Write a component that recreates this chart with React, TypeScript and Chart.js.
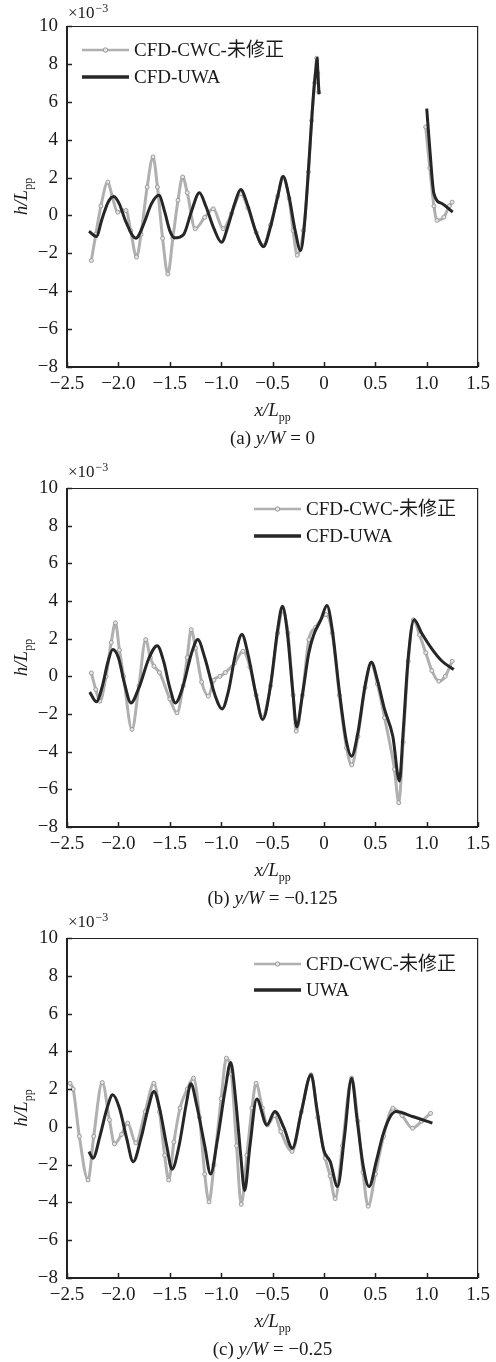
import React, { useEffect, useRef } from 'react';
import { Chart, registerables } from 'chart.js';

Chart.register(...registerables);

// ---- Axis ticks ----
const X_TICKS = [-2.5, -2, -1.5, -1, -0.5, 0, 0.5, 1, 1.5];
const X_TICK_LABELS = ['−2.5', '−2.0', '−1.5', '−1.0', '−0.5', '0', '0.5', '1.0', '1.5'];
const Y_TICKS = [-8, -6, -4, -2, 0, 2, 4, 6, 8, 10];
const Y_TICK_LABELS = ['−8', '−6', '−4', '−2', '0', '2', '4', '6', '8', '10'];

// ---- Panel (a) y/W = 0 ----
const A_CWC_X = [-2.263, -2.22, -2.17, -2.103, -2.06, -2.007, -1.96, -1.926, -1.88, -1.824, -1.78, -1.72, -1.663, -1.62, -1.57, -1.519, -1.47, -1.42, -1.375, -1.33, -1.253, -1.16, -1.077, -0.981, -0.9, -0.81, -0.74, -0.66, -0.589, -0.52, -0.45, -0.4, -0.34, -0.3, -0.26, -0.2, -0.15, -0.12, -0.09, -0.07, -0.06, -0.05, 0.5, 0.99, 1.03, 1.07, 1.1, 1.167, 1.22, 1.247];
const A_CWC_Y = [-2.38, -1.0, 0.5, 1.76, 1.0, 0.17, 0.25, 0.26, -0.8, -2.2, -1.0, 1.5, 3.09, 1.5, -1.2, -3.09, -1.2, 0.8, 2.03, 1.2, -0.7, -0.1, 0.35, -0.7, 0.1, 1.15, 0.4, -0.9, -1.6, -0.5, 1.0, 2.0, 0.9, -0.8, -2.1, -0.8, 2.3, 5.0, 7.0, 8.3, 7.5, 6.5, null, 4.67, 2.5, 0.5, -0.26, -0.09, 0.5, 0.7];
const A_UWA_X = [-2.286, -2.214, -2.16, -2.1, -2.045, -1.99, -1.93, -1.83, -1.75, -1.68, -1.606, -1.55, -1.5, -1.455, -1.365, -1.29, -1.212, -1.15, -1.07, -0.997, -0.93, -0.87, -0.81, -0.74, -0.66, -0.589, -0.52, -0.45, -0.397, -0.34, -0.28, -0.228, -0.19, -0.15, -0.12, -0.099, -0.075, -0.067, -0.058, -0.048, 0.5, 1.0, 1.03, 1.07, 1.151, 1.253];
const A_UWA_Y = [-0.83, -1.11, -0.2, 0.7, 1.0, 0.6, -0.3, -1.2, -0.4, 0.6, 1.06, 0.2, -0.8, -1.18, -1.0, 0.2, 1.2, 0.5, -0.7, -1.41, -0.5, 0.6, 1.37, 0.5, -0.9, -1.64, -0.6, 1.0, 2.06, 1.0, -0.8, -1.85, -0.5, 2.5, 5.0, 6.6, 7.9, 8.3, 7.4, 6.4, null, 5.64, 3.5, 1.15, 0.62, 0.18];

// ---- Panel (b) y/W = -0.125 ----
const B_CWC_X = [-2.263, -2.22, -2.18, -2.12, -2.07, -2.029, -1.99, -1.95, -1.868, -1.8, -1.734, -1.69, -1.654, -1.6, -1.5, -1.43, -1.37, -1.33, -1.292, -1.25, -1.19, -1.125, -1.07, -1.013, -0.96, -0.87, -0.788, -0.72, -0.66, -0.6, -0.52, -0.45, -0.4, -0.35, -0.3, -0.27, -0.21, -0.147, -0.08, 0.02, 0.08, 0.15, 0.22, 0.27, 0.33, 0.4, 0.46, 0.52, 0.59, 0.686, 0.728, 0.77, 0.82, 0.87, 0.93, 0.99, 1.05, 1.118, 1.18, 1.247];
const B_CWC_Y = [0.18, -0.7, -1.32, 0.0, 1.8, 2.84, 1.4, 0.0, -2.82, -0.5, 1.95, 1.0, 0.54, 0.2, -1.2, -1.94, -0.5, 1.0, 2.48, 1.5, -0.3, -1.05, -0.2, 0.0, 0.2, 0.7, 1.33, 0.5, -1.0, -2.2, -0.5, 2.3, 3.5, 2.3, -1.0, -2.91, -1.0, 1.95, 2.6, 3.28, 2.3, -1.0, -3.8, -4.7, -3.2, -0.6, 0.7, -0.4, -2.2, -4.94, -6.71, -3.5, 0.8, 3.0, 2.2, 1.25, 0.3, -0.26, 0.0, 0.8];
const B_UWA_X = [-2.279, -2.214, -2.16, -2.1, -2.055, -2.0, -1.94, -1.878, -1.8, -1.7, -1.622, -1.56, -1.5, -1.445, -1.37, -1.29, -1.228, -1.16, -1.06, -0.99, -0.93, -0.86, -0.798, -0.74, -0.66, -0.596, -0.52, -0.45, -0.404, -0.36, -0.3, -0.266, -0.21, -0.147, -0.1, -0.03, 0.029, 0.08, 0.15, 0.22, 0.269, 0.33, 0.4, 0.462, 0.52, 0.59, 0.67, 0.734, 0.77, 0.82, 0.878, 0.95, 1.055, 1.15, 1.263];
const B_UWA_Y = [-0.84, -1.35, -0.6, 0.8, 1.42, 1.0, -0.4, -1.41, -0.6, 1.0, 1.63, 0.8, -0.6, -1.41, -0.5, 1.2, 1.95, 1.0, -1.0, -1.73, -0.8, 1.2, 2.22, 1.2, -1.0, -2.29, -0.5, 2.5, 3.72, 2.5, -1.0, -2.68, -1.0, 1.25, 2.2, 3.0, 3.76, 2.5, -0.8, -3.5, -4.24, -3.0, -0.5, 0.75, -0.2, -1.76, -3.18, -5.56, -3.0, 1.0, 3.01, 2.3, 1.42, 0.8, 0.36];

// ---- Panel (c) y/W = -0.25 ----
const C_CWC_X = [-2.471, -2.44, -2.38, -2.295, -2.24, -2.157, -2.087, -2.038, -1.97, -1.91, -1.83, -1.74, -1.654, -1.6, -1.55, -1.51, -1.46, -1.4, -1.33, -1.269, -1.21, -1.16, -1.118, -1.07, -1.0, -0.949, -0.9, -0.85, -0.805, -0.75, -0.7, -0.661, -0.6, -0.55, -0.48, -0.42, -0.31, -0.22, -0.125, -0.06, 0.013, 0.06, 0.109, 0.18, 0.269, 0.33, 0.38, 0.43, 0.5, 0.58, 0.67, 0.76, 0.862, 0.95, 1.038];
const C_CWC_Y = [2.31, 2.0, -0.5, -2.81, -0.5, 2.35, 0.37, -0.9, -0.4, 0.2, -0.85, 0.8, 2.31, 0.8, -1.5, -2.81, -0.8, 1.0, 2.0, 2.58, 0.5, -2.5, -3.97, -2.0, 1.5, 3.64, 2.8, -1.0, -4.1, -1.5, 1.0, 2.31, 1.0, 0.1, 0.6, -0.25, -1.3, 0.8, 2.76, 0.5, -1.66, -2.6, -3.8, -1.0, 2.58, 0.3, -2.4, -4.2, -2.5, -0.5, 0.99, 0.6, -0.07, 0.3, 0.72];
const C_UWA_X = [-2.286, -2.247, -2.18, -2.11, -2.055, -1.99, -1.92, -1.856, -1.78, -1.71, -1.654, -1.6, -1.53, -1.478, -1.41, -1.34, -1.295, -1.24, -1.16, -1.103, -1.04, -0.96, -0.907, -0.86, -0.81, -0.772, -0.72, -0.654, -0.555, -0.478, -0.388, -0.308, -0.22, -0.125, -0.07, -0.003, 0.061, 0.132, 0.2, 0.269, 0.32, 0.38, 0.439, 0.51, 0.574, 0.64, 0.702, 0.862, 1.055];
const C_UWA_Y = [-1.31, -1.66, -0.5, 1.0, 1.7, 1.0, -0.6, -1.84, -0.6, 1.0, 1.87, 1.0, -1.0, -2.24, -1.0, 1.2, 2.28, 1.2, -1.0, -2.49, -0.8, 2.0, 3.41, 1.5, -1.5, -3.37, -1.0, 1.47, 0.1, 0.81, -0.07, -1.13, 0.8, 2.76, 1.0, -1.22, -1.84, -3.16, -0.5, 2.58, 0.5, -2.0, -3.16, -1.8, -0.42, 0.5, 0.81, 0.55, 0.2];

const SERIF = '"Liberation Serif", "Times New Roman", "Noto Sans CJK SC", serif';
const TEXT = '#1a1a1a';
const GRAY = '#b0b0b0';
const DARK = '#262626';

type Part = { t: string; i?: boolean; sub?: boolean; sup?: boolean };

function drawRich(ctx: CanvasRenderingContext2D, parts: Part[], cx: number, baseline: number, size: number) {
  const fontOf = (p: Part) => {
    const s = p.sub || p.sup ? Math.round(size * 0.65) : size;
    return `${p.i ? 'italic ' : ''}${s}px ${SERIF}`;
  };
  let total = 0;
  const widths = parts.map((p) => {
    ctx.font = fontOf(p);
    const w = ctx.measureText(p.t).width;
    total += w;
    return w;
  });
  let x = cx - total / 2;
  ctx.textAlign = 'left';
  ctx.textBaseline = 'alphabetic';
  parts.forEach((p, k) => {
    ctx.font = fontOf(p);
    const dy = p.sub ? size * 0.28 : p.sup ? -size * 0.45 : 0;
    ctx.fillText(p.t, x, baseline + dy);
    x += widths[k];
  });
}

type Panel = {
  cwcX: number[];
  cwcY: (number | null)[];
  uwaX: number[];
  uwaY: (number | null)[];
  cwcLabel: string;
  uwaLabel: string;
  caption: Part[];
  top: number;
  height: number;
  legendX: number;
  legendY1: number;
  legendY2: number;
  multDy: number;
};

const PAD_TOP = 26;
const X_AXIS_H = 80;
const PAD_BOTTOM = 5;

const PANELS: Panel[] = [
  {
    cwcX: A_CWC_X, cwcY: A_CWC_Y, uwaX: A_UWA_X, uwaY: A_UWA_Y,
    cwcLabel: 'CFD-CWC-未修正', uwaLabel: 'CFD-UWA',
    caption: [{ t: '(a) ' }, { t: 'y/W', i: true }, { t: ' = 0' }],
    top: 0, height: 452, legendX: 82, legendY1: 24, legendY2: 51, multDy: 8,
  },
  {
    cwcX: B_CWC_X, cwcY: B_CWC_Y, uwaX: B_UWA_X, uwaY: B_UWA_Y,
    cwcLabel: 'CFD-CWC-未修正', uwaLabel: 'CFD-UWA',
    caption: [{ t: '(b) ' }, { t: 'y/W', i: true }, { t: ' = −0.125' }],
    top: 462, height: 450, legendX: 254, legendY1: 21, legendY2: 48, multDy: 11,
  },
  {
    cwcX: C_CWC_X, cwcY: C_CWC_Y, uwaX: C_UWA_X, uwaY: C_UWA_Y,
    cwcLabel: 'CFD-CWC-未修正', uwaLabel: 'UWA',
    caption: [{ t: '(c) ' }, { t: 'y/W', i: true }, { t: ' = −0.25' }],
    top: 912, height: 451, legendX: 254, legendY1: 26, legendY2: 52, multDy: 11,
  },
];

function makeDecor(p: Panel) {
  return {
    id: 'decor',
    afterDraw(chart: any) {
      const ctx: CanvasRenderingContext2D = chart.ctx;
      const { left, right, top, bottom } = chart.chartArea;
      const xs = chart.scales.x;
      const ys = chart.scales.y;
      ctx.save();
      // frame
      ctx.strokeStyle = '#222';
      ctx.lineWidth = 1.2;
      ctx.beginPath();
      ctx.moveTo(left, top + 0.5);
      ctx.lineTo(right - 0.5, top + 0.5);
      ctx.lineTo(right - 0.5, bottom);
      ctx.stroke();
      ctx.lineWidth = 2;
      ctx.beginPath();
      ctx.moveTo(left, top);
      ctx.lineTo(left, bottom);
      ctx.lineTo(right, bottom);
      ctx.stroke();
      // inward tick marks
      ctx.lineWidth = 1.5;
      ctx.beginPath();
      xs.ticks.forEach((t: any) => {
        const px = Math.round(xs.getPixelForValue(t.value)) + 0.5;
        ctx.moveTo(px, bottom);
        ctx.lineTo(px, bottom - 5);
      });
      ys.ticks.forEach((t: any) => {
        const py = Math.round(ys.getPixelForValue(t.value)) + 0.5;
        ctx.moveTo(left, py);
        ctx.lineTo(left + 5, py);
      });
      ctx.stroke();

      ctx.fillStyle = TEXT;
      // multiplier
      ctx.textAlign = 'left';
      ctx.textBaseline = 'alphabetic';
      ctx.font = `17px ${SERIF}`;
      ctx.fillText('×10', left + 1, top - p.multDy);
      const w = ctx.measureText('×10').width;
      ctx.font = `12px ${SERIF}`;
      ctx.fillText('−3', left + 1 + w + 1, top - p.multDy - 6);

      const cx = (left + right) / 2;
      // x-axis title
      drawRich(ctx, [{ t: 'x/L', i: true }, { t: 'pp', sub: true }], cx, bottom + 49, 19);
      // caption
      drawRich(ctx, p.caption, cx, bottom + 77, 19);
      // y-axis title
      ctx.save();
      ctx.translate(27, (top + bottom) / 2);
      ctx.rotate(-Math.PI / 2);
      drawRich(ctx, [{ t: 'h/L', i: true }, { t: 'pp', sub: true }], 0, 0, 19);
      ctx.restore();

      // legend
      const lx = p.legendX;
      const l1 = top + p.legendY1;
      const l2 = top + p.legendY2;
      ctx.strokeStyle = GRAY;
      ctx.lineWidth = 2.6;
      ctx.beginPath();
      ctx.moveTo(lx, l1);
      ctx.lineTo(lx + 47, l1);
      ctx.stroke();
      ctx.beginPath();
      ctx.arc(lx + 23.5, l1, 2.2, 0, Math.PI * 2);
      ctx.fillStyle = '#e6e6e6';
      ctx.fill();
      ctx.strokeStyle = '#999';
      ctx.lineWidth = 1;
      ctx.stroke();
      ctx.strokeStyle = DARK;
      ctx.lineWidth = 3.3;
      ctx.beginPath();
      ctx.moveTo(lx, l2);
      ctx.lineTo(lx + 47, l2);
      ctx.stroke();
      ctx.fillStyle = TEXT;
      ctx.font = `19px ${SERIF}`;
      ctx.textBaseline = 'middle';
      ctx.fillText(p.cwcLabel, lx + 52, l1 + 1);
      ctx.fillText(p.uwaLabel, lx + 52, l2 + 1);
      ctx.restore();
    },
  };
}

function PanelChart({ p }: { p: Panel }) {
  const ref = useRef<HTMLCanvasElement>(null);
  useEffect(() => {
    if (!ref.current) return;
    const chart = new Chart(ref.current, {
      type: 'line',
      data: {
        datasets: [
          {
            label: p.uwaLabel,
            data: p.uwaX.map((x, i) => ({ x, y: p.uwaY[i] })) as any,
            borderColor: DARK,
            borderWidth: 3,
            pointRadius: 0,
            cubicInterpolationMode: 'monotone',
            spanGaps: false,
            order: 0,
          },
          {
            label: p.cwcLabel,
            data: p.cwcX.map((x, i) => ({ x, y: p.cwcY[i] })) as any,
            borderColor: GRAY,
            borderWidth: 3,
            pointRadius: 2,
            pointBorderWidth: 1,
            pointBorderColor: '#9c9c9c',
            pointBackgroundColor: '#e4e4e4',
            cubicInterpolationMode: 'monotone',
            spanGaps: false,
            order: 1,
          },
        ],
      },
      options: {
        responsive: false,
        animation: false,
        events: [],
        layout: { padding: { left: 0, right: 13, top: PAD_TOP, bottom: PAD_BOTTOM } },
        plugins: { legend: { display: false }, tooltip: { enabled: false } },
        scales: {
          x: {
            type: 'linear',
            min: -2.5,
            max: 1.5,
            afterBuildTicks: (s: any) => {
              s.ticks = X_TICKS.map((v) => ({ value: v }));
            },
            afterFit: (s: any) => {
              s.height = X_AXIS_H;
            },
            ticks: {
              autoSkip: false,
              maxRotation: 0,
              padding: 6,
              color: TEXT,
              font: { family: SERIF, size: 19 },
              callback: (_v: any, i: number) => X_TICK_LABELS[i],
            },
            grid: { display: false, drawTicks: false },
            border: { display: false },
          },
          y: {
            type: 'linear',
            min: -8,
            max: 10,
            afterBuildTicks: (s: any) => {
              s.ticks = Y_TICKS.map((v) => ({ value: v }));
            },
            afterFit: (s: any) => {
              s.width = 67;
            },
            ticks: {
              autoSkip: false,
              padding: 9,
              color: TEXT,
              font: { family: SERIF, size: 19 },
              callback: (_v: any, i: number) => Y_TICK_LABELS[i],
            },
            grid: { display: false, drawTicks: false },
            border: { display: false },
          },
        },
      } as any,
      plugins: [makeDecor(p)],
    });
    return () => chart.destroy();
  }, [p]);
  return (
    <canvas
      ref={ref}
      width={496}
      height={p.height}
      style={{ position: 'absolute', left: 0, top: p.top, width: 496, height: p.height }}
    />
  );
}

export default function App() {
  return (
    <div style={{ position: 'absolute', left: 0, top: 0, width: 496, height: 1362, background: '#fff', overflow: 'hidden' }}>
      {PANELS.map((p, k) => (
        <PanelChart key={k} p={p} />
      ))}
    </div>
  );
}
